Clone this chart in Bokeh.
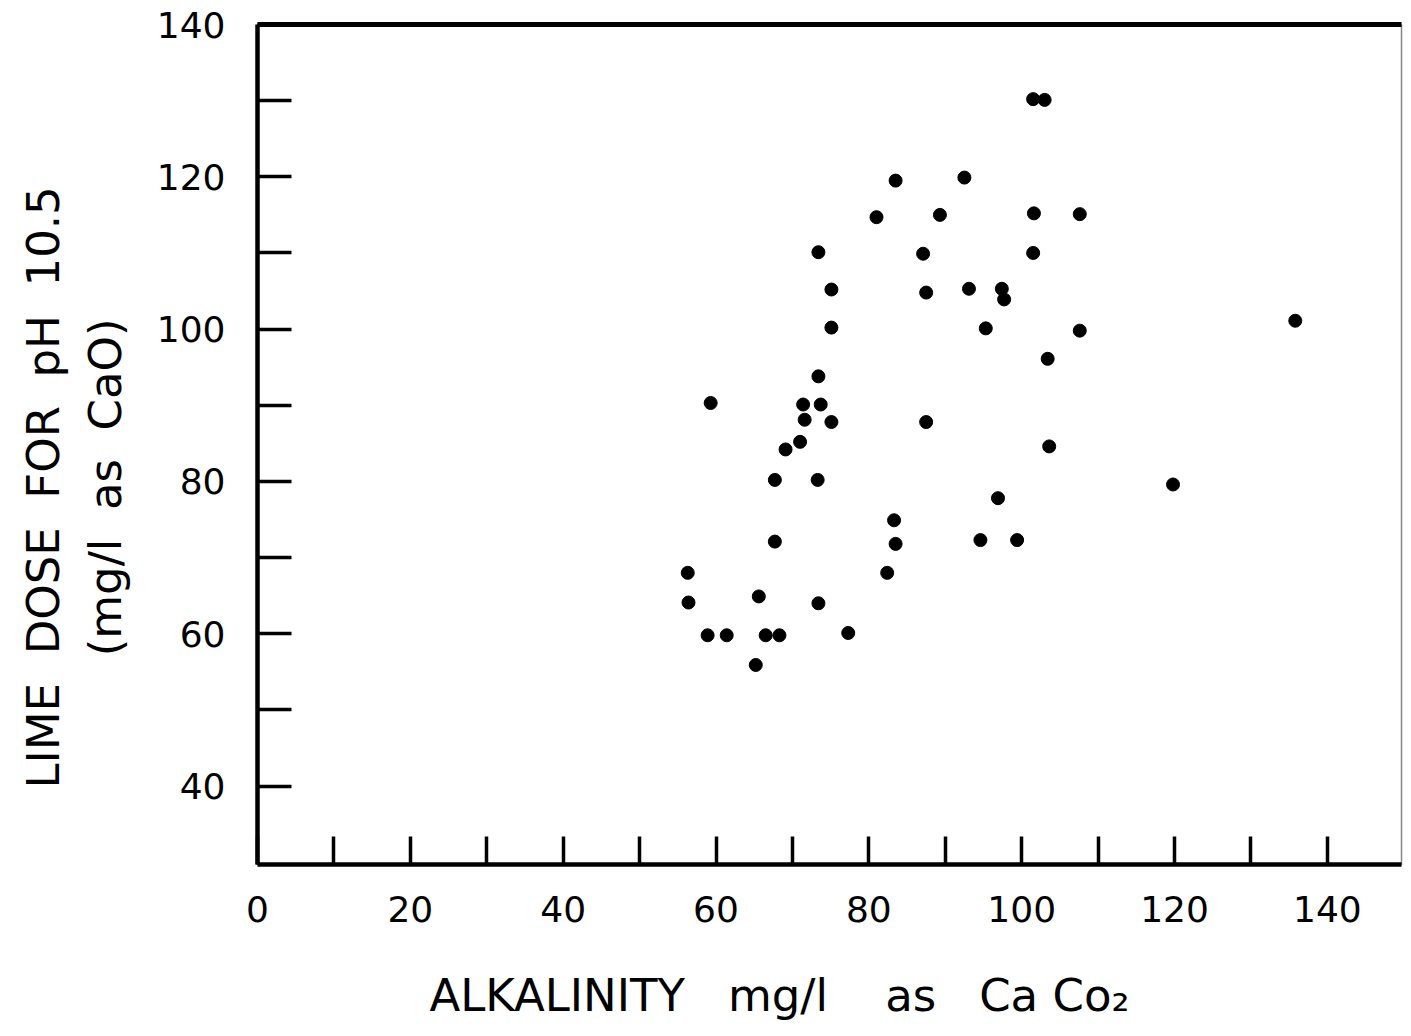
import math
from bokeh.plotting import figure
from bokeh.models import Range1d, FixedTicker, LinearAxis
from bokeh.embed import file_html
from bokeh.resources import INLINE

# Data
alkalinity = [56.3, 56.4, 59.3, 58.9, 61.4, 65.2, 65.6, 66.5, 68.3, 67.7,
              67.7, 69.1, 71.0, 71.4, 71.6, 73.4, 73.4, 73.7, 73.3, 73.4,
              75.1, 75.1, 75.1, 77.3, 81.0, 83.5, 82.4, 83.3, 83.5, 87.1,
              87.5, 87.5, 89.3, 92.5, 93.1, 94.6, 95.3, 96.9, 97.4, 97.7,
              99.4, 101.5, 103.0, 101.6, 101.5, 103.4, 103.6, 107.6, 107.6,
              119.8, 135.8]
lime_dose = [68.0, 64.1, 90.3, 59.8, 59.8, 55.9, 64.9, 59.8, 59.8, 80.2,
             72.1, 84.2, 85.2, 90.1, 88.1, 110.1, 93.8, 90.1, 80.2, 64.0,
             105.2, 100.2, 87.8, 60.1, 114.7, 119.5, 68.0, 74.9, 71.8, 109.9,
             104.8, 87.8, 115.0, 119.9, 105.3, 72.3, 100.1, 77.8, 105.3, 103.9,
             72.3, 130.2, 130.1, 115.2, 110.0, 96.1, 84.6, 115.1, 99.8,
             79.6, 101.1]

x_major_ticks = [0, 20, 40, 60, 80, 100, 120, 140]
x_minor_ticks = [10, 30, 50, 70, 90, 110, 130]
y_major_ticks = [40, 60, 80, 100, 120, 140]
y_minor_ticks = [50, 70, 90, 110, 130]

NB = "\u00a0"
x_title = "ALKALINITY" + NB * 3 + "mg/l" + NB * 4 + "as" + NB * 3 + "Ca" + NB + "Co\u2082" + NB * 7
y_title_1 = "LIME" + NB * 2 + "DOSE" + NB * 2 + "FOR" + NB * 2 + "pH" + NB * 2 + "10.5" + NB * 6
y_title_2 = "(mg/l" + NB * 2 + "as" + NB * 2 + "CaO)" + NB * 6

FONT = "DejaVu Sans"

p = figure(width=1403, height=1028, output_backend="svg", toolbar_location=None,
           title=None,
           x_range=Range1d(0, 149.7), y_range=Range1d(29.7, 140),
           min_border_left=257, min_border_right=2, min_border_top=24,
           min_border_bottom=164)

p.grid.visible = False
p.outline_line_color = "#888888"
p.outline_line_width = 1.5
p.background_fill_color = "white"
p.border_fill_color = "white"

for ax in (p.xaxis[0], p.yaxis[0]):
    ax.axis_line_width = 4.5
    ax.axis_line_color = "black"
    ax.major_tick_line_width = 3.5
    ax.minor_tick_line_width = 3.5
    ax.major_tick_line_color = "black"
    ax.minor_tick_line_color = "black"
    ax.major_tick_out = 0
    ax.minor_tick_out = 0
    ax.major_label_text_font = FONT
    ax.major_label_text_font_size = "36px"
    ax.major_label_text_color = "black"
    ax.axis_label_text_font = FONT
    ax.axis_label_text_font_size = "45px"
    ax.axis_label_text_font_style = "normal"
    ax.axis_label_text_color = "black"

p.xaxis.ticker = FixedTicker(ticks=x_major_ticks, minor_ticks=x_minor_ticks)
p.xaxis.major_tick_in = 28
p.xaxis.minor_tick_in = 28
p.xaxis.major_label_standoff = 31
p.xaxis.axis_label = x_title
p.xaxis.axis_label_standoff = 44

p.yaxis.ticker = FixedTicker(ticks=y_major_ticks, minor_ticks=y_minor_ticks)
p.yaxis.major_tick_in = 34
p.yaxis.minor_tick_in = 34
p.yaxis.major_label_standoff = 32
p.yaxis.axis_label = y_title_2
p.yaxis.axis_label_standoff = 22

# outer y-axis carrying the first title line only
outer = LinearAxis(ticker=FixedTicker(ticks=[]), axis_label=y_title_1,
                   axis_line_color=None, major_tick_line_color=None,
                   minor_tick_line_color=None, major_label_text_font_size="0px",
                   major_label_standoff=0, axis_label_standoff=6,
                   axis_label_text_font=FONT, axis_label_text_font_size="45px",
                   axis_label_text_font_style="normal", axis_label_text_color="black")
p.add_layout(outer, "left")

# thick top border
top = LinearAxis(ticker=FixedTicker(ticks=[]), axis_line_color="black",
                 axis_line_width=5, major_tick_line_color=None,
                 minor_tick_line_color=None, major_label_text_font_size="0px",
                 major_label_standoff=0)
p.add_layout(top, "above")

p.scatter(alkalinity, lime_dose, size=13, color="black")

open("out.html", "w").write(file_html(p, INLINE))
